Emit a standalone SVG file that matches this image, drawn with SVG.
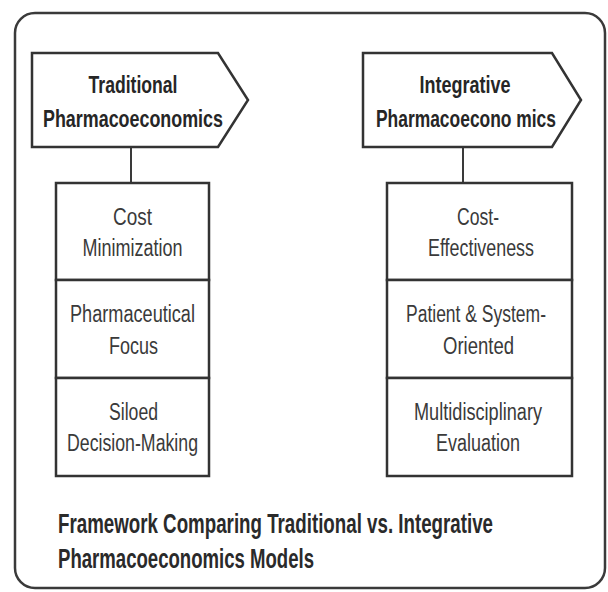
<svg xmlns="http://www.w3.org/2000/svg" width="608" height="592" viewBox="0 0 608 592">
  <style>
    .frame { fill: #ffffff; stroke: #3a3a3a; stroke-width: 2.5; }
    .head { fill: #ffffff; stroke: #333333; stroke-width: 2.5; stroke-linejoin: miter; }
    .cell { fill: #ffffff; stroke: #333333; stroke-width: 2.5; }
    .link { stroke: #3a3a3a; stroke-width: 2; fill: none; }
    .htext { font-family: "Liberation Sans", Arial, sans-serif; font-weight: bold; font-size: 24px; fill: #262626; text-anchor: middle; }
    .ctext { font-family: "Liberation Sans", Arial, sans-serif; font-size: 23px; fill: #3a3a3a; text-anchor: middle; }
    .title { font-family: "Liberation Sans", Arial, sans-serif; font-weight: bold; font-size: 27px; fill: #2a2a2a; }
  </style>

  <rect width="608" height="592" fill="#ffffff"/>

  <!-- outer frame -->
  <rect class="frame" x="15" y="13" width="590" height="575" rx="20" ry="20"/>

  <!-- connectors from headers to their column stacks -->
  <g id="connectors">
    <line class="link" x1="131" y1="147" x2="131" y2="183"/>
    <line class="link" x1="463" y1="147" x2="463" y2="183"/>
  </g>

  <!-- left column header -->
  <g id="traditional-header">
    <path class="head" d="M32,53 L218,53 L248,100 L218,147 L32,147 Z"/>
    <text class="htext" x="133" y="93" textLength="89" lengthAdjust="spacingAndGlyphs">Traditional</text>
    <text class="htext" x="133" y="127" textLength="180" lengthAdjust="spacingAndGlyphs">Pharmacoeconomics</text>
  </g>

  <!-- right column header -->
  <g id="integrative-header">
    <path class="head" d="M363,53 L552,53 L581,100 L552,147 L363,147 Z"/>
    <text class="htext" x="465" y="93" textLength="91" lengthAdjust="spacingAndGlyphs">Integrative</text>
    <text class="htext" x="466" y="127" textLength="180" lengthAdjust="spacingAndGlyphs">Pharmacoecono mics</text>
  </g>

  <!-- left column cells -->
  <g id="cost-minimization">
    <rect class="cell" x="56" y="183" width="153" height="97"/>
    <text class="ctext" x="132.5" y="225" textLength="39" lengthAdjust="spacingAndGlyphs">Cost</text>
    <text class="ctext" x="132.5" y="256" textLength="100" lengthAdjust="spacingAndGlyphs">Minimization</text>
  </g>
  <g id="pharmaceutical-focus">
    <rect class="cell" x="56" y="280" width="153" height="98"/>
    <text class="ctext" x="132.5" y="322" textLength="125" lengthAdjust="spacingAndGlyphs">Pharmaceutical</text>
    <text class="ctext" x="133.5" y="353.5" textLength="49" lengthAdjust="spacingAndGlyphs">Focus</text>
  </g>
  <g id="siloed-decision-making">
    <rect class="cell" x="56" y="378" width="153" height="98"/>
    <text class="ctext" x="133.5" y="420" textLength="49" lengthAdjust="spacingAndGlyphs">Siloed</text>
    <text class="ctext" x="132.5" y="451" textLength="131" lengthAdjust="spacingAndGlyphs">Decision-Making</text>
  </g>

  <!-- right column cells -->
  <g id="cost-effectiveness">
    <rect class="cell" x="387" y="183" width="185" height="97"/>
    <text class="ctext" x="478" y="225" textLength="42" lengthAdjust="spacingAndGlyphs">Cost-</text>
    <text class="ctext" x="481" y="256" textLength="106" lengthAdjust="spacingAndGlyphs">Effectiveness</text>
  </g>
  <g id="patient-system-oriented">
    <rect class="cell" x="387" y="280" width="185" height="98"/>
    <text class="ctext" x="476" y="322" textLength="140" lengthAdjust="spacingAndGlyphs">Patient &amp; System-</text>
    <text class="ctext" x="478.5" y="353.5" textLength="71" lengthAdjust="spacingAndGlyphs">Oriented</text>
  </g>
  <g id="multidisciplinary-evaluation">
    <rect class="cell" x="387" y="378" width="185" height="98"/>
    <text class="ctext" x="478" y="420" textLength="128" lengthAdjust="spacingAndGlyphs">Multidisciplinary</text>
    <text class="ctext" x="478" y="451" textLength="84" lengthAdjust="spacingAndGlyphs">Evaluation</text>
  </g>

  <!-- caption -->
  <g id="caption">
    <text class="title" x="58" y="533" textLength="435" lengthAdjust="spacingAndGlyphs">Framework Comparing Traditional vs. Integrative</text>
    <text class="title" x="58" y="568" textLength="256" lengthAdjust="spacingAndGlyphs">Pharmacoeconomics Models</text>
  </g>
</svg>
